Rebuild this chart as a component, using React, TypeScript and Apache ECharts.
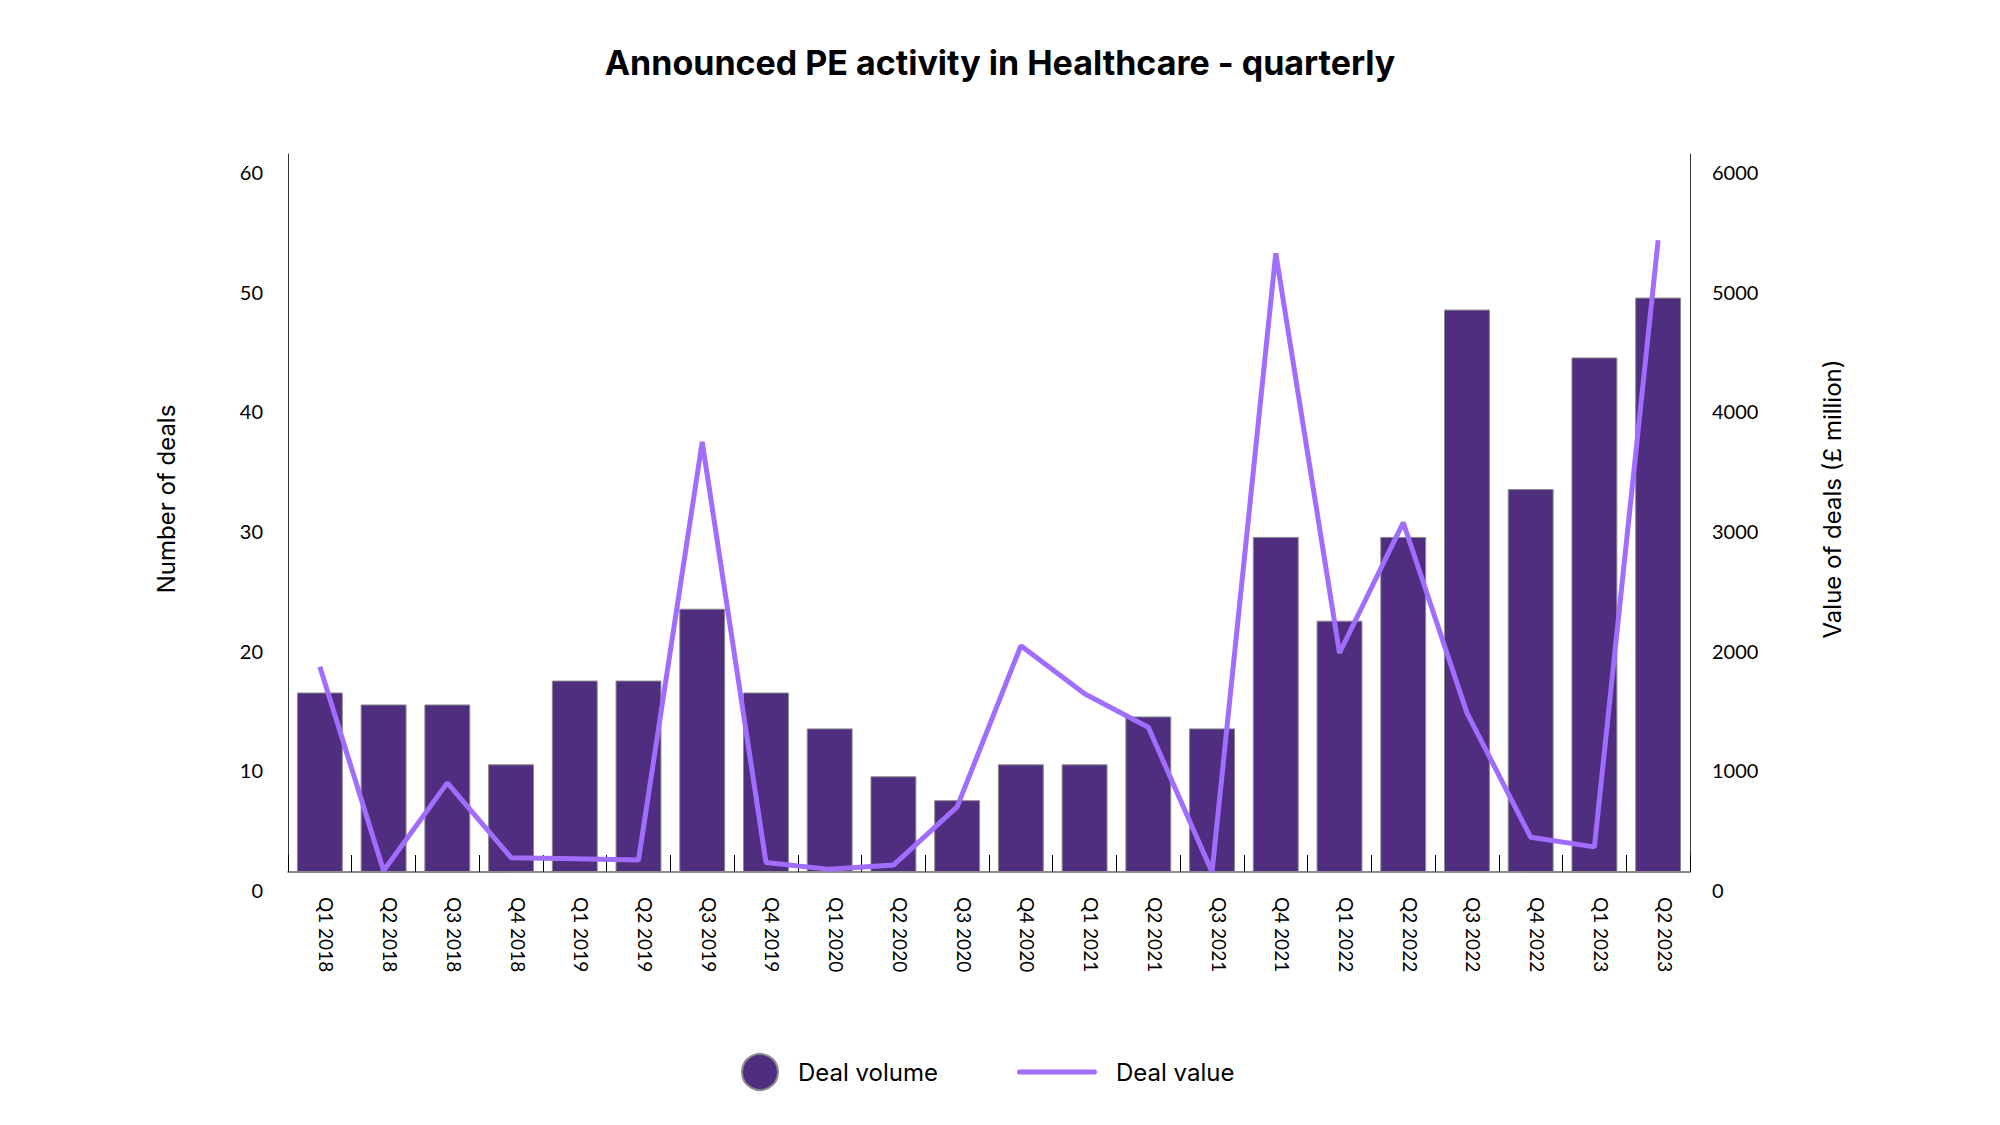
import { useEffect, useRef } from 'react';
import * as echarts from 'echarts';

const FONT = 'Lato, "Noto Sans", sans-serif';
const HEAD_FONT = 'Inter, "Noto Sans", sans-serif';

const quarters = [
  'Q1 2018', 'Q2 2018', 'Q3 2018', 'Q4 2018',
  'Q1 2019', 'Q2 2019', 'Q3 2019', 'Q4 2019',
  'Q1 2020', 'Q2 2020', 'Q3 2020', 'Q4 2020',
  'Q1 2021', 'Q2 2021', 'Q3 2021', 'Q4 2021',
  'Q1 2022', 'Q2 2022', 'Q3 2022', 'Q4 2022',
  'Q1 2023', 'Q2 2023',
];

// number of deals (left axis)
const dealVolume = [15, 14, 14, 9, 16, 16, 22, 15, 12, 8, 6, 9, 9, 13, 12, 28, 21, 28, 47, 32, 43, 48];

// value of deals in £ million (right axis)
const dealValue = [
  1715, 10, 745, 120, 110, 100, 3595, 80, 22, 58, 544, 1890,
  1490, 1210, 0, 5170, 1830, 2920, 1330, 290, 210, 5280,
];

const volumeAxis = { max: 60, step: 10 };
const valueAxis = { max: 6000, step: 1000 };

// thin line with round ends for the "Deal value" legend key
const lineIcon = 'path://M2.5,0H77.5A2.5,2.5,0,0,1,77.5,5H2.5A2.5,2.5,0,0,1,2.5,0Z';

export default function App() {
  const chartRef = useRef<HTMLDivElement | null>(null);

  useEffect(() => {
    const element = chartRef.current;
    if (!element) return;

    const chart = echarts.init(element, undefined, { renderer: 'svg' });

    const legendText = {
      fontSize: 24,
      color: '#000',
      fontFamily: HEAD_FONT,
      padding: [0, 0, 0, 15],
    };

    chart.setOption({
      animation: false,
      textStyle: { fontFamily: FONT },
      title: {
        text: 'Announced PE activity in Healthcare - quarterly',
        left: 'center',
        top: 40,
        textStyle: { fontSize: 34, fontWeight: 'bold', color: '#000', fontFamily: HEAD_FONT },
      },
      grid: { left: 288, right: 310, top: 154, bottom: 253 },
      legend: [
        {
          data: [{ name: 'Deal volume', icon: 'circle' }],
          left: 736,
          top: 1048,
          itemWidth: 36,
          itemHeight: 36,
          selectedMode: false,
          textStyle: legendText,
        },
        {
          data: [{ name: 'Deal value', icon: lineIcon }],
          left: 1012,
          top: 1055,
          itemWidth: 80,
          itemHeight: 36,
          selectedMode: false,
          textStyle: { ...legendText, padding: [0, 0, 0, 14] },
        },
      ],
      xAxis: {
        type: 'category',
        data: quarters,
        axisLine: { lineStyle: { color: '#666', width: 1.5 } },
        axisTick: { show: true, inside: true, length: 17, lineStyle: { color: '#000' } },
        axisLabel: {
          rotate: -90,
          interval: 0,
          margin: 25,
          fontSize: 19,
          color: '#000',
          verticalAlign: 'bottom',
          lineHeight: 14,
        },
      },
      yAxis: [
        {
          type: 'value',
          position: 'left',
          min: 0,
          max: volumeAxis.max,
          interval: volumeAxis.step,
          name: 'Number of deals',
          nameLocation: 'middle',
          nameRotate: 90,
          nameGap: 110,
          nameTextStyle: { fontSize: 24, color: '#000', fontFamily: HEAD_FONT, padding: [0, 0, 0, 28] },
          axisLine: { show: true, lineStyle: { color: '#333' } },
          axisTick: { show: false },
          splitLine: { show: false },
          axisLabel: { margin: 25, fontSize: 20, color: '#000', verticalAlign: 'top', padding: [8, 0, 0, 0] },
        },
        {
          type: 'value',
          position: 'right',
          min: 0,
          max: valueAxis.max,
          interval: valueAxis.step,
          name: 'Value of deals (£ million)',
          nameLocation: 'middle',
          nameRotate: 90,
          nameGap: 130,
          nameTextStyle: { fontSize: 24, color: '#000', fontFamily: HEAD_FONT, padding: [0, 0, 0, 28] },
          axisLine: { show: true, lineStyle: { color: '#333' } },
          axisTick: { show: false },
          splitLine: { show: false },
          axisLabel: {
            margin: 22,
            fontSize: 20,
            color: '#000',
            verticalAlign: 'top',
            padding: [8, 0, 0, 0],
            formatter: (v: number) => String(v),
          },
        },
      ],
      series: [
        {
          name: 'Deal volume',
          type: 'bar',
          data: dealVolume,
          barWidth: '72%',
          itemStyle: { color: '#4F2D7F', borderColor: '#8a8a8a', borderWidth: 1 },
        },
        {
          name: 'Deal value',
          type: 'line',
          yAxisIndex: 1,
          data: dealValue,
          symbol: 'none',
          showSymbol: false,
          lineStyle: { color: '#A06DFF', width: 5 },
          itemStyle: { color: '#A06DFF' },
          z: 3,
        },
      ],
    });

    return () => {
      chart.dispose();
    };
  }, []);

  return (
    <div
      ref={chartRef}
      style={{ position: 'fixed', left: 0, top: 0, width: 2000, height: 1125, background: '#fff' }}
    />
  );
}
